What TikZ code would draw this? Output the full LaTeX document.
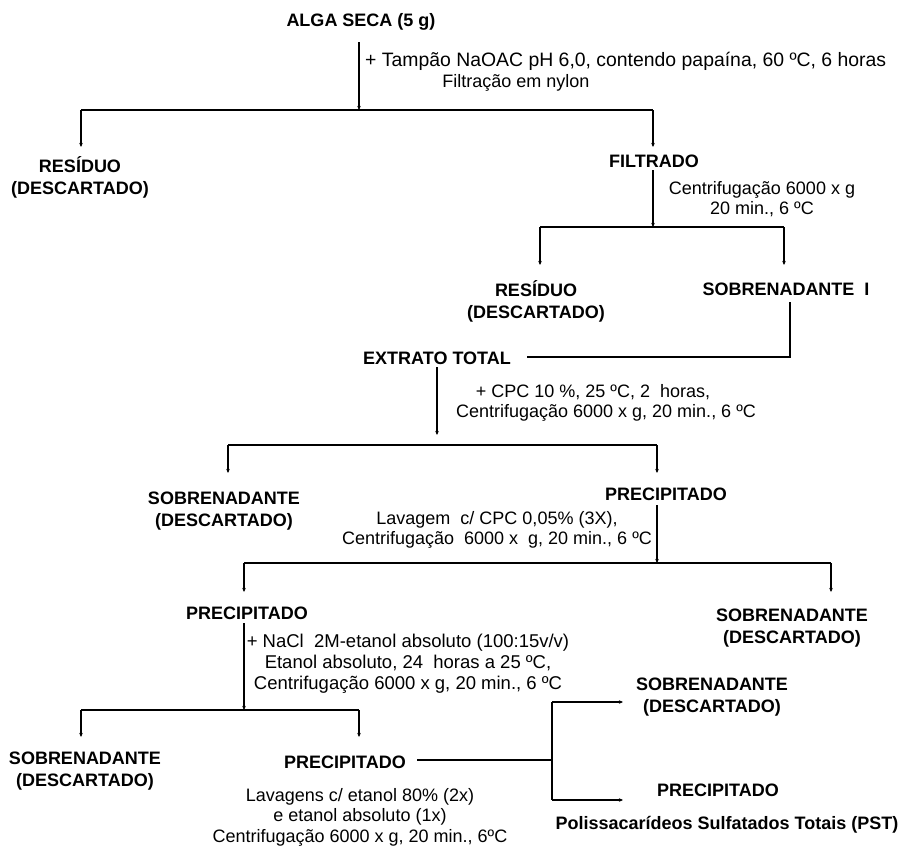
\documentclass[tikz,border=0pt]{standalone}
\usepackage{fontspec}
\setmainfont{Liberation Sans}
\usetikzlibrary{arrows.meta}
\begin{document}
\begin{tikzpicture}[x=1pt,y=-1pt,
  lbl/.style={font=\fontsize{18}{22}\selectfont\bfseries, align=center, inner sep=0pt},
  note/.style={font=\fontsize{18}{20.5}\selectfont, align=center, inner sep=0pt},
  ln/.style={line width=1.3pt},
  arr/.style={line width=1.3pt, -{Stealth[length=4pt,width=3.5pt]}}]
\useasboundingbox (0,0) rectangle (907,846);
% labels
\node[lbl] (alga) at (361,22) {ALGA SECA (5 g)};
\node[lbl] (res1) at (80,177) {RESÍDUO\\(DESCARTADO)};
\node[lbl] (filt) at (654,161) {FILTRADO};
\node[lbl] (res2) at (536,301) {RESÍDUO\\(DESCARTADO)};
\node[lbl] (sob1) at (786,289) {SOBRENADANTE\ \ I};
\node[lbl] (ext) at (437,358) {EXTRATO TOTAL};
\node[lbl] (sob2) at (224,511) {SOBRENADANTE\\(DESCARTADO)};
\node[lbl] (prec1) at (666,494) {PRECIPITADO};
\node[lbl] (prec2) at (247,613) {PRECIPITADO};
\node[lbl] (sob3) at (792,628) {SOBRENADANTE\\(DESCARTADO)};
\node[lbl] (sob4) at (85,771) {SOBRENADANTE\\(DESCARTADO)};
\node[lbl] (prec3) at (345,762) {PRECIPITADO};
\node[lbl] (sob5) at (712,697) {SOBRENADANTE\\(DESCARTADO)};
\node[lbl] (prec4) at (718,790) {PRECIPITADO};
\node[lbl] (pst) at (727,825) {Polissacarídeos Sulfatados Totais (PST)};
% notes
\node[note, anchor=west, font=\fontsize{19.4}{22}\selectfont] (t1) at (365,61) {+ Tampão NaOAC pH 6,0, contendo papaína, 60 ºC, 6 horas};
\node[note] (t2) at (516,83) {Filtração em nylon};
\node[note] (t3) at (762,199) {Centrifugação 6000 x g\\20 min., 6 ºC};
\node[note] (t4) at (593,392) {+ CPC 10 \%, 25 ºC, 2~ horas,};
\node[note] (t5) at (606,413) {Centrifugação 6000 x g, 20 min., 6 ºC};
\node[note] (t6) at (497,530) {Lavagem~ c/ CPC 0,05\% (3X),\\Centrifugação~ 6000 x~ g, 20 min., 6 ºC};
\node[note, font=\fontsize{18.5}{21}\selectfont] (t7) at (408,664) {+ NaCl~ 2M-etanol absoluto (100:15v/v)\\Etanol absoluto, 24~ horas a 25 ºC,\\Centrifugação 6000 x g, 20 min., 6 ºC};
\node[note] (t8) at (360,817) {Lavagens c/ etanol 80\% (2x)\\e etanol absoluto (1x)\\Centrifugação 6000 x g, 20 min., 6ºC};
% junction coordinates
\coordinate (a0) at (359,42);  \coordinate (a1) at (359,110);
\coordinate (a2) at (81,110);  \coordinate (a3) at (653,110);
\coordinate (a4) at (81,147);  \coordinate (a5) at (653,147);
\coordinate (b0) at (653,170); \coordinate (b1) at (653,227);
\coordinate (b2) at (540,227); \coordinate (b3) at (784,227);
\coordinate (b4) at (540,265); \coordinate (b5) at (784,265);
\coordinate (c0) at (790,302); \coordinate (c1) at (790,357);
\coordinate (c2) at (527,357);
\coordinate (d0) at (437,367); \coordinate (d1) at (437,435);
\coordinate (d2) at (228,445); \coordinate (d3) at (657,445);
\coordinate (d4) at (228,473); \coordinate (d5) at (657,473);
\coordinate (e0) at (657,505); \coordinate (e1) at (657,563);
\coordinate (e2) at (244,563); \coordinate (e3) at (831,563);
\coordinate (e4) at (244,592); \coordinate (e5) at (831,592);
\coordinate (f0) at (244,623); \coordinate (f1) at (244,710);
\coordinate (f2) at (81,710);  \coordinate (f3) at (359,710);
\coordinate (f4) at (81,737);  \coordinate (f5) at (359,737);
\coordinate (g0) at (417,760); \coordinate (g1) at (552,760);
\coordinate (g2) at (552,702); \coordinate (g3) at (552,800);
\coordinate (g4) at (623,702); \coordinate (g5) at (623,800);
% connectors
\draw[arr] (a0) -- (a1);
\draw[ln] (a2) -- (a3);
\draw[arr] (a2) -- (a4);
\draw[arr] (a3) -- (a5);
\draw[arr] (b0) -- (b1);
\draw[ln] (b2) -- (b3);
\draw[arr] (b2) -- (b4);
\draw[arr] (b3) -- (b5);
\draw[ln] (c0) -- (c1) -- (c2);
\draw[arr] (d0) -- (d1);
\draw[ln] (d2) -- (d3);
\draw[arr] (d2) -- (d4);
\draw[arr] (d3) -- (d5);
\draw[arr] (e0) -- (e1);
\draw[ln] (e2) -- (e3);
\draw[arr] (e2) -- (e4);
\draw[arr] (e3) -- (e5);
\draw[arr] (f0) -- (f1);
\draw[ln] (f2) -- (f3);
\draw[arr] (f2) -- (f4);
\draw[arr] (f3) -- (f5);
\draw[ln] (g0) -- (g1);
\draw[ln] (g2) -- (g3);
\draw[arr] (g2) -- (g4);
\draw[arr] (g3) -- (g5);
\end{tikzpicture}
\end{document}
